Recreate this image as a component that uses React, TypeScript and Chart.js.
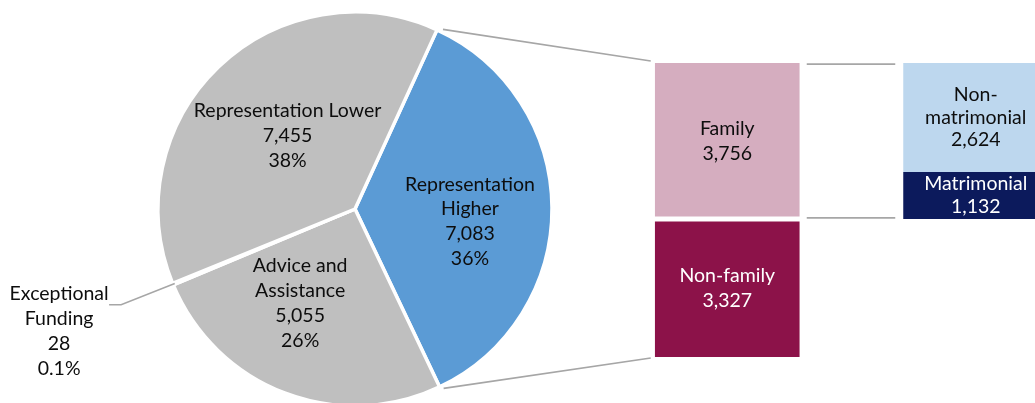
import React, { useEffect, useRef } from "react";
import { Chart, registerables } from "chart.js";
Chart.register(...registerables);

// ---- data ----
const pieNames = ["Representation Higher", "Advice and Assistance", "Exceptional Funding", "Representation Lower"];
const pieNameLines = [["Representation", "Higher"], ["Advice and", "Assistance"], ["Exceptional", "Funding"], ["Representation Lower"]];
const pieValues = [7083, 5055, 28, 7455];
const piePercents = ["36%", "26%", "0.1%", "38%"];

const familyNames = ["Non-family", "Family"];
const familyValues = [3327, 3756];
const familySubNames = ["Matrimonial", "Non-matrimonial"];
const familySubNameLines = [["Matrimonial"], ["Non-", "matrimonial"]];
const familySubValues = [1132, 2624];
const barCategories = ["Representation Higher", "Family"];

// ---- styles ----
const pieColors = ["#5B9BD5", "#BFBFBF", "#BFBFBF", "#BFBFBF"];
const familyColors = ["#8C1249", "#D5ADBF"];
const familySubColors = ["#0C1A5C", "#BDD7EE"];
const familyTextColors = ["#FFFFFF", "#0D0D0D"];
const familySubTextColors = ["#FFFFFF", "#0D0D0D"];
const labelRadiusFactor = [0.587, 0.553, 1.625, 0.505];
const labelAngleShift = [6.6, 9.3, 0, 1.1];
const FONT = "19.5px Lato";
const LINE_GRAY = "#A6A6A6";
const BAR_LEFT = 603;
const BAR_W = 497;

const fmt = (v: number) => v.toLocaleString("en-US");

function drawLines(ctx: CanvasRenderingContext2D, lines: string[], cx: number, cy: number, lh: number, color: string) {
  ctx.save();
  ctx.font = FONT;
  ctx.fillStyle = color;
  ctx.textAlign = "center";
  ctx.textBaseline = "middle";
  const start = cy - ((lines.length - 1) * lh) / 2;
  lines.forEach((t, i) => ctx.fillText(t, cx, start + i * lh));
  ctx.restore();
}

export default function App() {
  const pieRef = useRef<HTMLCanvasElement | null>(null);
  const barRef = useRef<HTMLCanvasElement | null>(null);

  useEffect(() => {
    document.body.style.margin = "0";
    document.body.style.overflow = "hidden";
    const familyTotal = familyValues.reduce((a, b) => a + b, 0);

    const barLabelPlugin = {
      id: "barLabels",
      afterDatasetsDraw(chart: any) {
        const ctx = chart.ctx;
        chart.data.datasets.forEach((ds: any, di: number) => {
          const meta = chart.getDatasetMeta(di);
          meta.data.forEach((el: any) => {
            const cy = (el.y + el.base) / 2;
            drawLines(ctx, ds._lines, el.x, cy, ds._lh, ds._textColor);
          });
        });
      },
    };

    let acc = 0;
    const famDatasets = familyValues.map((v, i) => {
      const lo = acc;
      acc += v;
      return {
        label: familyNames[i],
        data: [{ x: barCategories[0], y: [lo, acc] }],
        backgroundColor: familyColors[i],
        borderColor: "#FFFFFF",
        borderWidth: i === 0 ? { top: 2.5, bottom: 0, left: 0, right: 0 } : { top: 0, bottom: 2.5, left: 0, right: 0 },
        borderSkipped: false,
        _lines: [familyNames[i], fmt(v)],
        _lh: 25,
        _textColor: familyTextColors[i],
      };
    });
    let acc2 = familyValues[0];
    const subDatasets = familySubValues.map((v, i) => {
      const lo = acc2;
      acc2 += v;
      return {
        label: familySubNames[i],
        data: [{ x: barCategories[1], y: [lo, acc2] }],
        backgroundColor: familySubColors[i],
        borderWidth: 0,
        _lines: [...familySubNameLines[i], fmt(v)],
        _lh: 22.5,
        _textColor: familySubTextColors[i],
      };
    });

    const barChart = new Chart(barRef.current!, {
      type: "bar",
      data: { labels: barCategories, datasets: [...famDatasets, ...subDatasets] as any },
      options: {
        animation: false,
        responsive: false,
        grouped: false,
        barPercentage: 1,
        categoryPercentage: 0.5835,
        layout: { padding: { top: 63, bottom: 46, left: 0, right: 0 } },
        plugins: { legend: { display: false }, tooltip: { enabled: false } },
        scales: {
          x: { display: false, offset: true },
          y: { display: false, min: 0, max: familyTotal },
        },
      } as any,
      plugins: [barLabelPlugin],
    });

    const piePlugin = {
      id: "pieExtras",
      afterDatasetsDraw(chart: any) {
        const ctx = chart.ctx as CanvasRenderingContext2D;
        const meta = chart.getDatasetMeta(0);
        const arcs = meta.data;
        const cx = arcs[0].x;
        const cy = arcs[0].y;
        const r = arcs[0].outerRadius;
        const pt = (angRad: number, rad: number) => [cx + Math.cos(angRad) * rad, cy + Math.sin(angRad) * rad];

        // labels
        arcs.forEach((arc: any, i: number) => {
          const mid = (arc.startAngle + arc.endAngle) / 2 + (labelAngleShift[i] * Math.PI) / 180;
          const [lx, ly] = pt(mid, r * labelRadiusFactor[i]);
          const lines = [...pieNameLines[i], fmt(pieValues[i]), piePercents[i]];
          drawLines(ctx, lines, lx, ly, 24.8, "#0D0D0D");
          if (i === 2) {
            const [ex, ey] = pt((arc.startAngle + arc.endAngle) / 2, r * 0.99);
            ctx.save();
            ctx.strokeStyle = LINE_GRAY;
            ctx.lineWidth = 1.5;
            ctx.beginPath();
            ctx.moveTo(ex, ey);
            ctx.lineTo(lx + 62, ly - 26.5);
            ctx.lineTo(lx + 50, ly - 26.5);
            ctx.stroke();
            ctx.restore();
          }
        });

        // connectors
        const blue = arcs[0];
        const [sx1, sy1] = pt(blue.startAngle + 0.026, r + 3);
        const [sx2, sy2] = pt(blue.endAngle - 0.015, r + 3);
        const fam = barChart.getDatasetMeta(1).data[0] as any;
        const nonFam = barChart.getDatasetMeta(0).data[0] as any;
        const sub = barChart.getDatasetMeta(3).data[0] as any;
        const bar1Left = BAR_LEFT + fam.x - fam.width / 2;
        const bar1Right = BAR_LEFT + fam.x + fam.width / 2;
        const bar2Left = BAR_LEFT + sub.x - sub.width / 2;
        ctx.save();
        ctx.strokeStyle = LINE_GRAY;
        ctx.lineWidth = 1.75;
        ctx.beginPath();
        ctx.moveTo(sx1, sy1);
        ctx.lineTo(bar1Left - 4, fam.y - 2);
        ctx.moveTo(sx2, sy2);
        ctx.lineTo(bar1Left - 4, nonFam.base + 1);
        ctx.moveTo(bar1Right + 7, fam.y + 1);
        ctx.lineTo(bar2Left - 8, fam.y + 1);
        ctx.moveTo(bar1Right + 7, fam.base - 1);
        ctx.lineTo(bar2Left - 8, fam.base - 1);
        ctx.stroke();
        ctx.restore();
      },
    };

    const pieChart = new Chart(pieRef.current!, {
      type: "pie",
      data: {
        labels: pieNames,
        datasets: [
          {
            data: pieValues,
            backgroundColor: pieColors,
            borderColor: "#FFFFFF",
            borderWidth: 3.5,
          },
        ],
      },
      options: {
        animation: false,
        responsive: false,
        rotation: 24.6,
        radius: 197,
        layout: { padding: { left: 0, right: 325, top: 15, bottom: 0 } },
        plugins: { legend: { display: false }, tooltip: { enabled: false } },
      } as any,
      plugins: [piePlugin],
    });

    return () => {
      pieChart.destroy();
      barChart.destroy();
    };
  }, []);

  return (
    <div style={{ position: "relative", width: 1035, height: 403, overflow: "hidden", background: "#FFFFFF" }}>
      <canvas ref={pieRef} width={1035} height={403} style={{ position: "absolute", left: 0, top: 0 }} />
      <canvas ref={barRef} width={BAR_W} height={403} style={{ position: "absolute", left: BAR_LEFT, top: 0 }} />
    </div>
  );
}
